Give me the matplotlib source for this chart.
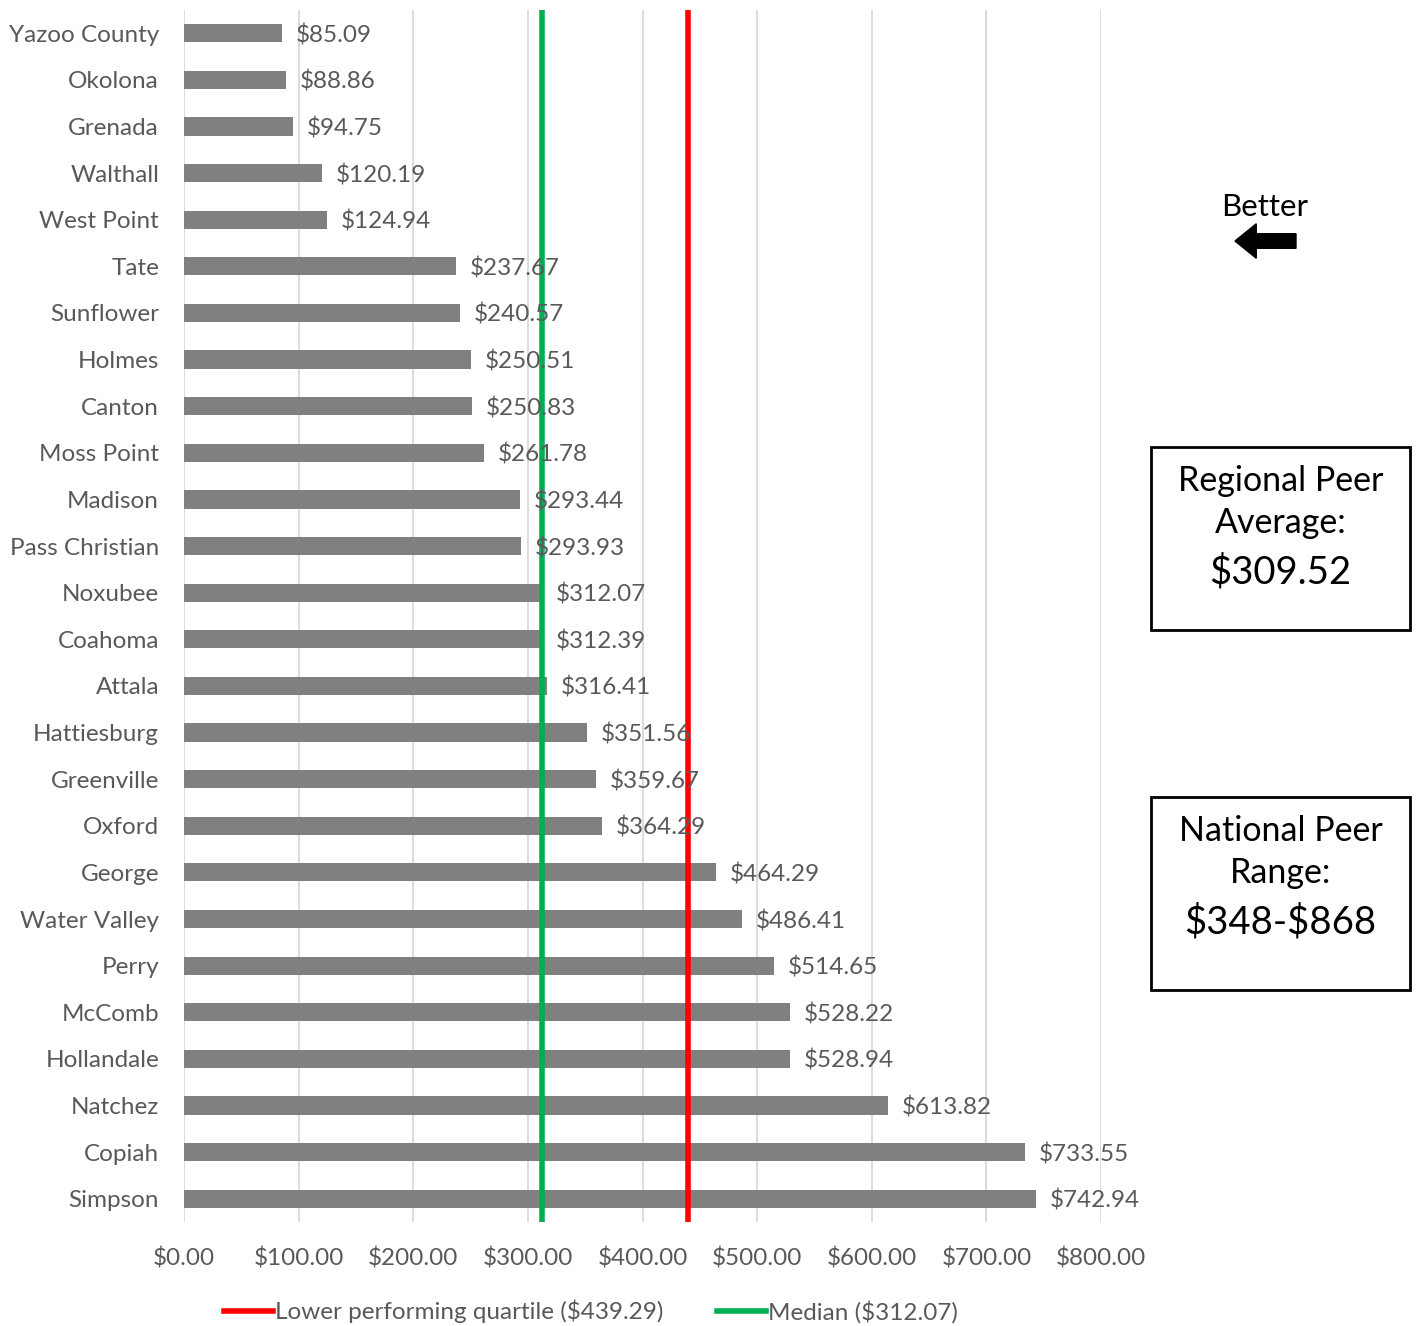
import matplotlib.pyplot as plt
from matplotlib.lines import Line2D
from matplotlib.patches import FancyArrow

plt.rcParams['font.family'] = ['Lato', 'DejaVu Sans']

# cost per district, top to bottom
districts = ['Yazoo County', 'Okolona', 'Grenada', 'Walthall', 'West Point', 'Tate',
             'Sunflower', 'Holmes', 'Canton', 'Moss Point', 'Madison', 'Pass Christian',
             'Noxubee', 'Coahoma', 'Attala', 'Hattiesburg', 'Greenville', 'Oxford',
             'George', 'Water Valley', 'Perry', 'McComb', 'Hollandale', 'Natchez',
             'Copiah', 'Simpson']
costs = [85.09, 88.86, 94.75, 120.19, 124.94, 237.67, 240.57, 250.51, 250.83, 261.78,
         293.44, 293.93, 312.07, 312.39, 316.41, 351.56, 359.67, 364.29, 464.29, 486.41,
         514.65, 528.22, 528.94, 613.82, 733.55, 742.94]

lower_quartile = 439.29
median = 312.07
regional_avg = 309.52
national_range = r'\$348-\$868'
x_ticks = [0, 100, 200, 300, 400, 500, 600, 700, 800]

grey_text = '#595959'
fs = 17.5

fig = plt.figure(figsize=(14.18, 13.26), dpi=100)
ax = fig.add_axes([0.1298, 0.0784, 0.6467, 0.9141])

ypos = list(range(len(districts)))
ax.barh(ypos, costs, height=0.39, color='#808080', zorder=2)
for y, v in zip(ypos, costs):
    ax.text(v + 12, y, f'${v:,.2f}', va='center_baseline', ha='left', fontsize=fs,
            color=grey_text, zorder=5)

ax.axvline(lower_quartile, color='#ff0000', lw=4, zorder=4)
ax.axvline(median, color='#00b050', lw=4, zorder=4)

ax.set_xlim(0, 800)
ax.set_ylim(len(districts) - 0.5, -0.5)
ax.set_yticks(ypos)
ax.set_yticklabels(districts, fontsize=fs, color=grey_text, va='center_baseline')
ax.set_xticks(x_ticks)
ax.set_xticklabels([f'${t:,.2f}' for t in x_ticks], fontsize=fs, color=grey_text)
ax.tick_params(axis='both', length=0)
ax.tick_params(axis='y', pad=18)
ax.tick_params(axis='x', pad=18)
ax.set_xlim(0, 800)
ax.grid(axis='x', color='#d9d9d9', lw=1.3, zorder=0)
for s in ax.spines.values():
    s.set_visible(False)

# legend under the plot
handles = [Line2D([], [], color='#ff0000', lw=4),
           Line2D([], [], color='#00b050', lw=4)]
labels = [f'Lower performing quartile (${lower_quartile:.2f})', f'Median (${median:.2f})']
leg = fig.legend(handles, labels, loc='center', bbox_to_anchor=(0.417, 0.011), ncol=2,
                 frameon=False, fontsize=fs, handlelength=2.0, handletextpad=0.1,
                 columnspacing=2.2)
for t in leg.get_texts():
    t.set_color(grey_text)

# "Better" direction arrow
fig.text(1265 / 1418, 1 - 207 / 1326, 'Better', ha='center', va='center', fontsize=22.5)
fig.patches.append(FancyArrow(1296 / 1418, 1 - 241 / 1326, -61 / 1418, 0,
                              width=0.011, head_width=0.026, head_length=0.015,
                              length_includes_head=True, color='black',
                              transform=fig.transFigure, figure=fig))

# summary boxes
def summary_box(x0, y0, x1, y1, heading, value):
    fx0, fx1 = x0 / 1418, x1 / 1418
    fy0, fy1 = 1 - y1 / 1326, 1 - y0 / 1326
    fig.patches.append(plt.Rectangle((fx0, fy0), fx1 - fx0, fy1 - fy0, fill=False,
                                     ec='black', lw=2, transform=fig.transFigure,
                                     figure=fig))
    cx = (fx0 + fx1) / 2
    fig.text(cx, 1 - (y0 + 55) / 1326, heading, ha='center', va='center',
             fontsize=24.5, linespacing=1.42)
    fig.text(cx, 1 - (y0 + 125) / 1326, value, ha='center', va='center', fontsize=27.5)

summary_box(1151, 447, 1410, 630, 'Regional Peer\nAverage:', f'\\${regional_avg:.2f}')
summary_box(1151, 797, 1410, 990, 'National Peer\nRange:', national_range)

fig.savefig('out.png', dpi=100)
